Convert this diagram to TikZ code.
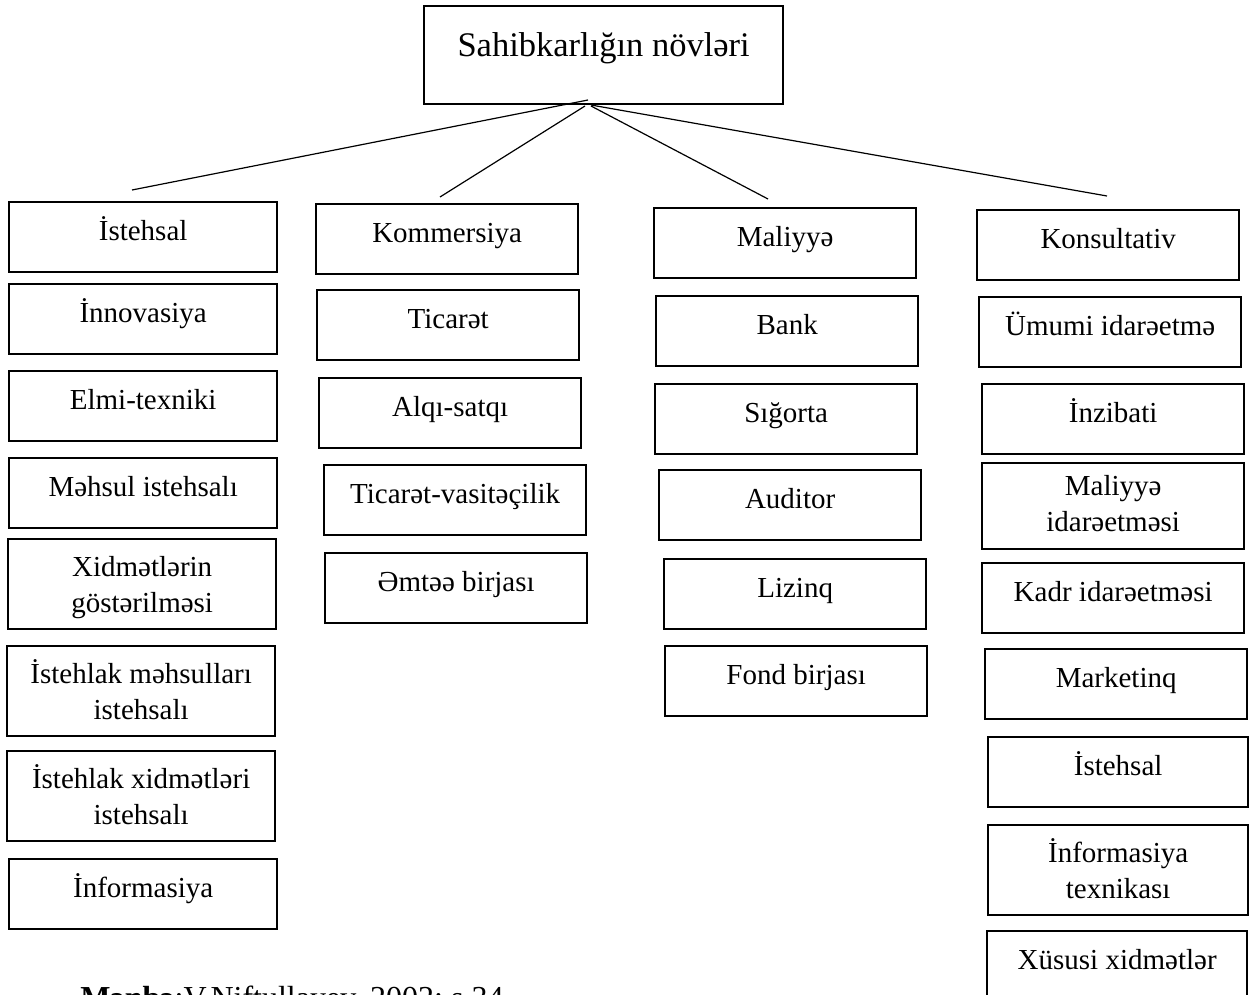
\documentclass[tikz,border=0pt]{standalone}
\usepackage{fontspec}
\setmainfont{Liberation Serif}

\begin{document}
\begin{tikzpicture}[
		x=0.5pt, y=-0.5pt,
		every node/.style={inner sep=0pt},
		cell/.style={rectangle, draw, line width=1.15pt, anchor=north west, align=center,
			minimum width=131pt, text height=19pt, text depth=16pt,
			font=\fontsize{14.5pt}{18pt}\selectfont},
		twoline/.style={text height=36.5pt, text depth=8.5pt},
		wide/.style={minimum width=134pt},
		link/.style={line width=0.6pt}
	]
  \path[use as bounding box, clip] (0,0) rectangle (1252,995);
  \node (root) [cell, minimum width=179.5pt, text height=25pt, text depth=24pt,
    font=\fontsize{17.25pt}{21pt}\selectfont] at (423,5) {Sahibkarlığın növləri};
  % istehsal
  \node (a1) [cell, wide] at (8,201) {İstehsal};
  \node (a2) [cell, wide] at (8,283) {İnnovasiya};
  \node (a3) [cell, wide] at (8,370) {Elmi-texniki};
  \node (a4) [cell, wide] at (8,457) {Məhsul istehsalı};
  \node (a5) [cell, wide, twoline] at (7,538) {Xidmətlərin\\göstərilməsi};
  \node (a6) [cell, wide, twoline] at (6,645) {İstehlak məhsulları\\istehsalı};
  \node (a7) [cell, wide, twoline] at (6,750) {İstehlak xidmətləri\\istehsalı};
  \node (a8) [cell, wide] at (8,858) {İnformasiya};
  % kommersiya
  \node (b1) [cell] at (315,203) {Kommersiya};
  \node (b2) [cell] at (316,289) {Ticarət};
  \node (b3) [cell] at (318,377) {Alqı-satqı};
  \node (b4) [cell] at (323,464) {Ticarət-vasitəçilik};
  \node (b5) [cell] at (324,552) {Əmtəə birjası};
  % maliyye
  \node (c1) [cell] at (653,207) {Maliyyə};
  \node (c2) [cell] at (655,295) {Bank};
  \node (c3) [cell] at (654,383) {Sığorta};
  \node (c4) [cell] at (658,469) {Auditor};
  \node (c5) [cell] at (663,558) {Lizinq};
  \node (c6) [cell] at (664,645) {Fond birjası};
  % konsultativ
  \node (d1) [cell] at (976,209) {Konsultativ};
  \node (d2) [cell] at (978,296) {Ümumi idarəetmə};
  \node (d3) [cell] at (981,383) {İnzibati};
  \node (d4) [cell, twoline, text height=34pt, text depth=9pt] at (981,462) {Maliyyə\\idarəetməsi};
  \node (d5) [cell] at (981,562) {Kadr idarəetməsi};
  \node (d6) [cell] at (984,648) {Marketinq};
  \node (d7) [cell, minimum width=130pt] at (987,736) {İstehsal};
  \node (d8) [cell, minimum width=130pt, twoline] at (987,824) {İnformasiya\\texnikası};
  \node (d9) [cell, minimum width=130pt] at (986,930) {Xüsusi xidmətlər};
  \node (src) [anchor=base west, font=\fontsize{16pt}{19pt}\selectfont] at (80,1008)
    {\textbf{Mənbə}:V.Niftullayev, 2002; s.34};
  \coordinate (hub1) at (588,100);
  \coordinate (hub2) at (585,106);
  \coordinate (hub3) at (591,106);
  \coordinate (hub4) at (591,105);
  \coordinate (end1) at (132,190);
  \coordinate (end2) at (440,197);
  \coordinate (end3) at (768,199);
  \coordinate (end4) at (1107,196);
  \draw[link] (hub1) -- (end1);
  \draw[link] (hub2) -- (end2);
  \draw[link] (hub3) -- (end3);
  \draw[link] (hub4) -- (end4);
\end{tikzpicture}
\end{document}
